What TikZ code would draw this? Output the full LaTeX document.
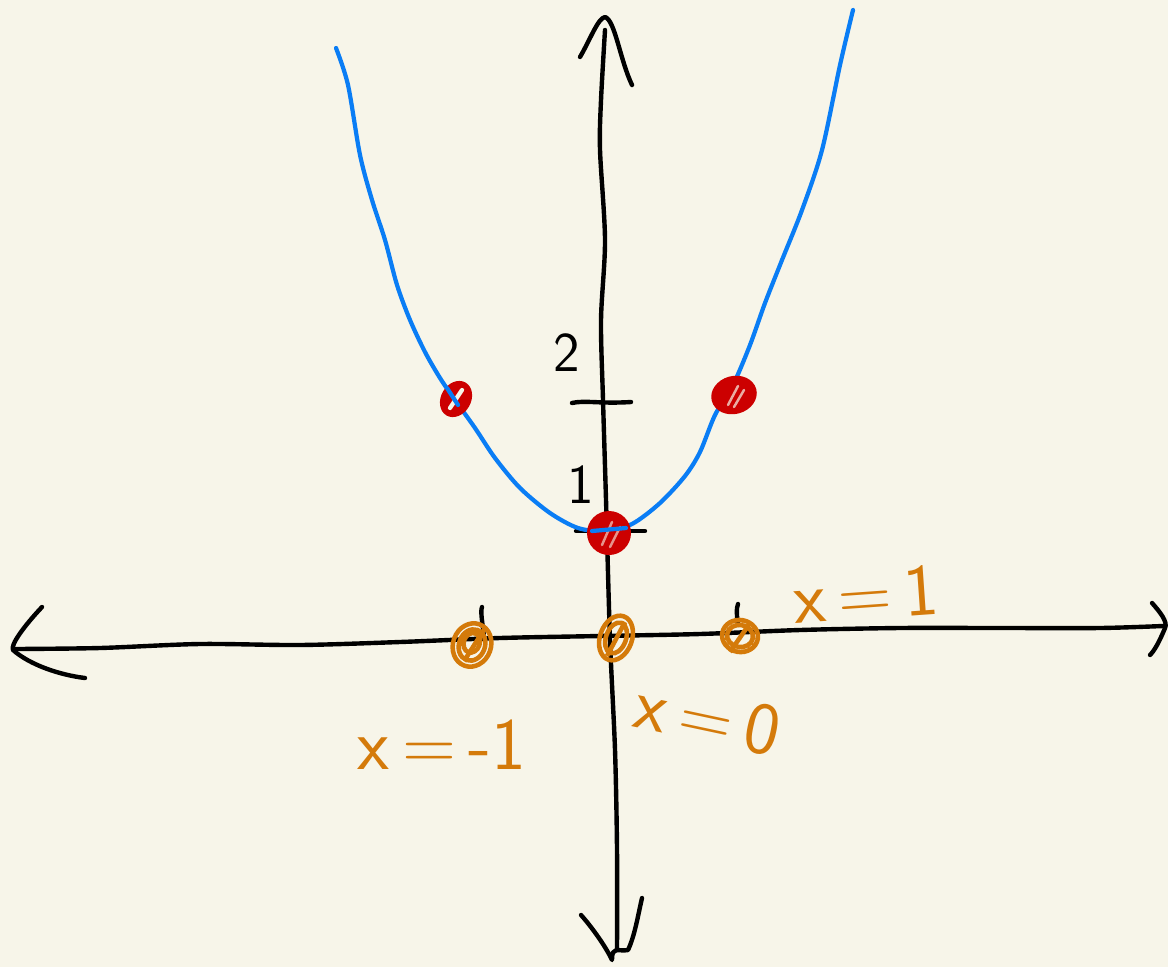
\documentclass[tikz,border=0pt]{standalone}
\usepackage{fontspec}
\definecolor{paper}{RGB}{247,245,233}
\definecolor{curveblue}{RGB}{10,125,245}
\definecolor{dotred}{RGB}{204,0,0}
\definecolor{dotorange}{RGB}{212,122,10}
\tikzset{
  ink/.style={line width=1.25pt, line cap=round, line join=round, black},
  curveline/.style={line width=1.2pt, line cap=round, curveblue},
  orangering/.style={line width=1.3pt, dotorange},
  blacklabel/.style={font=\sffamily\fontsize{16}{16}\selectfont, text=black, inner sep=0pt},
  orangelabel/.style={font=\sffamily\fontsize{21}{21}\selectfont, text=dotorange, inner sep=0pt}
}
\begin{document}
\begin{tikzpicture}[x=0.01cm,y=-0.01cm]
\fill[paper] (0,0) rectangle (1168,967);
\useasboundingbox (0,0) rectangle (1168,967);

% x axis
\draw[ink] plot[smooth] coordinates {(15,649) (100,648) (200,644) (300,645) (400,642) (500,638) (600,636) (700,634) (800,630) (900,628) (1000,628) (1100,628) (1163,626)};
\draw[ink] (42,607) .. controls (25,625) and (10,645) .. (13,650) .. controls (30,665) and (60,675) .. (85,678);
\draw[ink] (1152,603) .. controls (1160,612) and (1168,622) .. (1165,628) .. controls (1160,640) and (1155,650) .. (1150,655);

% y axis
\draw[ink] plot[smooth] coordinates {(605,30) (601,100) (600,150) (605,240) (601,320) (603,400) (606,500) (610,640) (615,750) (617,850) (617,950)};
\draw[ink] (580,57) .. controls (590,40) and (598,18) .. (605,17) .. controls (615,20) and (620,60) .. (632,85);
\draw[ink] (581,915) .. controls (590,925) and (605,945) .. (612,960) .. controls (612,945) and (618,952) .. (628,950) .. controls (635,935) and (638,915) .. (642,898);

% ticks
\draw[ink] (572,403) .. controls (585,400) and (600,404) .. (631,402);
\draw[ink] (576,531) -- (645,531);
\draw[ink] (482,607) .. controls (480,612) and (483,625) .. (484,638);
\draw[ink] (738,604) .. controls (736,608) and (737,618) .. (738,625);

% parabola
\draw[curveline] plot[smooth] coordinates {(336,48) (348,85) (360,155) (372,200) (385,240) (397,285) (410,320) (425,352) (440,378) (455,400) (475,428) (495,458) (520,488) (550,513) (578,528) (605,531) (632,524) (660,503) (685,476) (700,452) (715,415) (733,385) (750,345) (765,303) (782,260) (802,210) (822,150) (840,65) (853,10)};

% red points
\fill[dotred, rotate around={60:(456,399)}] (456,399) ellipse (19 and 15);
\draw[line width=1.2pt, paper, line cap=round] (450,408) -- (462,390);
\draw[curveline] (447,388) -- (458,405);
\fill[dotred, rotate around={15:(734,395)}] (734,395) ellipse (23 and 19);
\draw[line width=0.7pt, paper!70!dotred, line cap=round] (728,405) -- (738,386) (734,407) -- (744,390);
\fill[dotred] (609,533) circle (22);
\draw[line width=0.7pt, paper!60!dotred, line cap=round] (602,545) -- (612,522) (610,547) -- (620,527);
\draw[curveline] (592,531) -- (626,528);

% orange points
\draw[orangering, rotate around={70:(472,645)}] (472,645) ellipse (22 and 19) (472,645) ellipse (16 and 13) (474,644) ellipse (10 and 8);
\draw[orangering] (466,658) -- (485,628);
\draw[orangering, rotate around={70:(616,638)}] (616,638) ellipse (23 and 16) (616,638) ellipse (16 and 10);
\draw[orangering] (607,656) -- (625,622);
\draw[orangering, rotate around={-10:(740,636)}] (740,636) ellipse (18 and 16) (740,636) ellipse (13 and 11);
\draw[orangering] (730,652) -- (750,623);

% labels
\node[blacklabel] (two) at (567,353) {2};
\node[blacklabel] (one) at (581,485) {1};
\node[orangelabel, rotate=4] (xone) at (866,594) {x\,=\,1};
\node[orangelabel] (xminus) at (442,745) {x\,=\,-1};
\node[orangelabel, rotate=-12] (xzero) at (708,718) {x\,=\,0};
\end{tikzpicture}
\end{document}
